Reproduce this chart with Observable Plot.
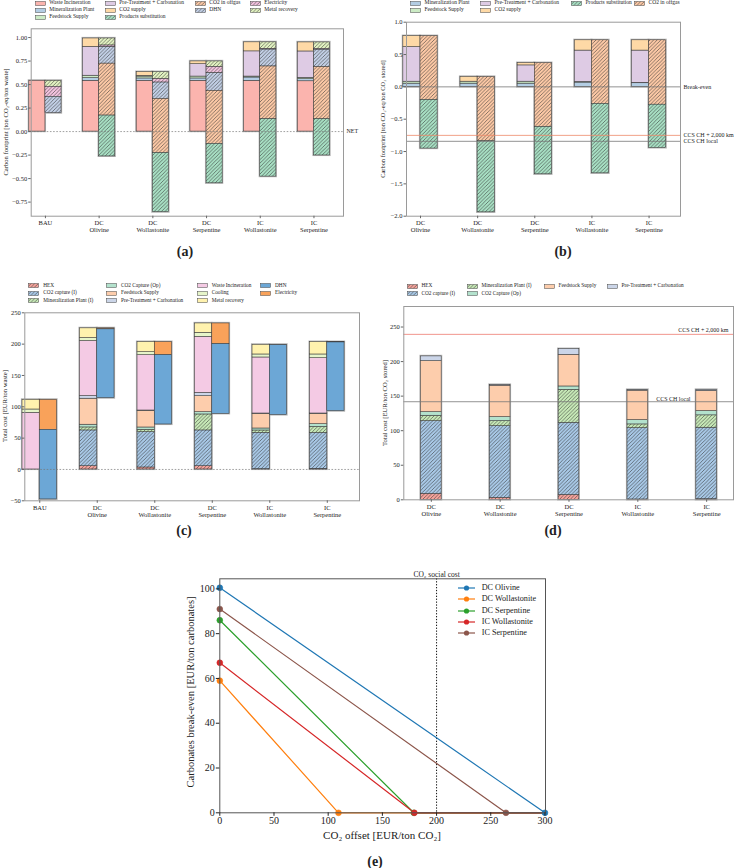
<!DOCTYPE html>
<html><head><meta charset="utf-8">
<script src="https://cdn.jsdelivr.net/npm/d3@7"></script>
<script src="https://cdn.jsdelivr.net/npm/@observablehq/plot@0.6"></script>
<style>
body{margin:0;background:#fff;}
#root{position:relative;width:737px;height:868px;font-family:"Liberation Serif",serif;overflow:hidden;color:#222;}
.sw{position:absolute;}
.lt{position:absolute;white-space:nowrap;line-height:1;transform:translateY(-50%);}
.cap{position:absolute;font-weight:bold;font-size:14px;transform:translate(-50%,-50%);line-height:1;}
.yl{position:absolute;white-space:nowrap;line-height:1;transform:translate(-50%,-50%) rotate(-90deg);}
.xl{position:absolute;white-space:nowrap;line-height:1;transform:translate(-50%,-50%);}
</style></head><body><div id="root"></div>
<script>
// ---------------- DATA ----------------
// Panel (a): carbon footprint per ton of waste
const groupsA = ["BAU","DC\nOlivine","DC\nWollastonite","DC\nSerpentine","IC\nWollastonite","IC\nSerpentine"];
const wasteIncA   = [0.54, 0.54, 0.54, 0.54, 0.54, 0.535];
const mineralA    = [0, 0.029, 0.025, 0.025, 0.035, 0.022];
const feedstockA  = [0, 0.025, 0.02, 0.02, 0.01, 0.015];
const pretreatA   = [0, 0.307, 0.007, 0.132, 0.268, 0.28];
const co2SupplyA  = [0, 0.089, 0.04, 0.029, 0.096, 0.096];
const metalA      = [0.065, 0.075, 0.075, 0.061, 0.071, 0.071];
const electricA   = [0.107, 0.018, 0.036, 0.064, 0.007, 0.007];
const dhnA        = [0.172, 0.175, 0.175, 0.189, 0.179, 0.185];
const offgasA     = [0, 0.552, 0.575, 0.564, 0.56, 0.553];
const substA      = [0, 0.434, 0.628, 0.418, 0.611, 0.386];
const yTicksA = [-0.75,-0.5,-0.25,0,0.25,0.5,0.75,1.0];

// Panel (b): carbon footprint per ton of CO2 stored
const groupsB = ["DC\nOlivine","DC\nWollastonite","DC\nSerpentine","IC\nWollastonite","IC\nSerpentine"];
const mineralB   = [0.05, 0.05, 0.05, 0.066, 0.056];
const feedstockB = [0.03, 0.03, 0.03, 0.01, 0.005];
const pretreatB  = [0.536, 0, 0.252, 0.485, 0.5];
const co2SupplyB = [0.168, 0.073, 0.035, 0.159, 0.159];
const offgasB    = [0.988, 0.995, 0.989, 0.985, 0.996];
const substB     = [0.75, 1.098, 0.73, 1.072, 0.668];
const breakEvenB = 0, ccsFarB = -0.75, ccsLocalB = -0.842;
const yTicksB = [-2,-1.5,-1,-0.5,0,0.5,1];

// Panel (c): total cost per ton of waste
const groupsC = groupsA;
const hexC       = [0, 5.3, 3.2, 5.3, 0.5, 1];
const co2CapIC   = [0, 57, 56.4, 57, 58, 57.4];
const mineralIC  = [0, 4.8, 3.7, 25.5, 3.7, 9.6];
const co2CapOpC  = [0, 4.3, 3.7, 3.7, 3.2, 4.3];
const feedstockC = [0, 41.5, 26.6, 25.5, 23.4, 16.5];
const pretreatC  = [0, 4.3, 0.5, 5.3, 0.5, 0.5];
const wasteIncC  = [90.4, 87.8, 88.3, 89.4, 89.4, 88.3];
const coolingC   = [5.3, 4.8, 4.8, 6.4, 4.8, 5.9];
const metalC     = [15.4, 15.4, 16, 14.9, 15.4, 19.7];
const electricC  = [47.9, 1.6, 20.8, 33, 0.5, 0.5];
const dhnC       = [111, 109.8, 110.6, 111.2, 111.4, 109.6];
const yTicksC = [-50,0,50,100,150,200,250];

// Panel (d): total cost per ton of CO2 stored
const groupsD = groupsB;
const hexD       = [8.7, 2.9, 7.2, 0.5, 1];
const co2CapID   = [105.2, 103.8, 104.2, 103.3, 103.3];
const mineralID  = [7.7, 7.2, 47.8, 5.3, 17.9];
const co2CapOpD  = [5.3, 5.8, 4.8, 6.3, 6.3];
const feedstockD = [73.8, 45.4, 45.8, 42.5, 29];
const pretreatD  = [6.8, 1, 8.2, 1, 1.5];
const ccsFarD = 239.4, ccsLocalD = 141.9;
const yTicksD = [0,50,100,150,200,250];

// Panel (e): carbonates break-even vs CO2 offset
const seriesE   = ["DC Olivine","DC Wollastonite","DC Serpentine","IC Wollastonite","IC Serpentine"];
const breakEvenAtZero = [100.5, 59, 86, 67, 91];
const offsetAtZeroCost = [300, 109.5, 179, 179.5, 264];
const offsetMax = 300;
const socialCost = 200;
const xTicksE = [0,50,100,150,200,250,300];
const yTicksE = [0,20,40,60,80,100];

// ---------------- STYLES ----------------
const root = d3.select("#root");
const defs = root.append("svg").attr("width",0).attr("height",0)
  .style("position","absolute").append("defs");
function hatch(id, color){
  const s = 3.6;
  const p = defs.append("pattern").attr("id",id).attr("patternUnits","userSpaceOnUse")
    .attr("width",s).attr("height",s);
  p.append("rect").attr("width",s).attr("height",s).attr("fill",color);
  p.append("path").attr("d",`M${-s/4},${s/4} L${s/4},${-s/4} M0,${s} L${s},0 M${s*3/4},${s*5/4} L${s*5/4},${s*3/4}`)
    .attr("stroke","#2b2b2b").attr("stroke-width",0.55);
  return `url(#${id})`;
}
const styleAB = {
  "Waste Incineration": "#fbb4ae",
  "Mineralization Plant": "#b3cde3",
  "Feedstock Supply": "#ccebc5",
  "Pre-Treatment + Carbonation": "#decbe4",
  "CO2 supply": "#fed9a6",
  "Products substitution": hatch("hPS","#a8e0c4"),
  "CO2 in offgas": hatch("hOG","#fdc9a6"),
  "DHN": hatch("hDHN","#c3d0e6"),
  "Electricity": hatch("hEL","#f4c4e0"),
  "Metal recovery": hatch("hMR","#e4f4c3")
};
const styleCD = {
  "HEX": hatch("hHEX","#f6a49c"),
  "CO2 capture (I)": hatch("hCC","#a9c9e7"),
  "Mineralization Plant (I)": hatch("hMPI","#c8eab8"),
  "CO2 Capture (Op)": "#b3e2cd",
  "Feedstock Supply": "#fdcdac",
  "Pre-Treatment + Carbonation": "#cbd5e8",
  "Waste Incineration": "#f4cae4",
  "Cooling": "#e6f5c9",
  "Metal recovery": "#fff2ae",
  "DHN": "#6ca7d6",
  "Electricity": "#f9a25a"
};
const colorsE = ["#1f77b4","#ff7f0e","#2ca02c","#d62728","#8c564b"];
const FONT = "Liberation Serif";

// ---------------- HELPERS ----------------
const BW = 0.3;
function stackRows(n, left, right){
  const rows=[], totals=[];
  const single = !right;
  for(let i=0;i<n;i++){
    let y=0; const sL = single?0:-1;
    for(const [k,vals] of left){const v=vals[i]; if(v>0) rows.push({i,side:sL,k,y1:y,y2:y+v}); y+=v;}
    const top=y; totals.push({i,side:sL,y1:0,y2:top});
    if(right){
      for(const [k,vals] of right){const v=vals[i]; if(v>0) rows.push({i,side:1,k,y1:y,y2:y-v}); y-=v;}
      totals.push({i,side:1,y1:top,y2:y});
    }
  }
  return {rows,totals};
}
const X1 = d => d.side<0 ? d.i-BW : d.side>0 ? d.i : d.i-BW/2;
const X2 = d => d.side<0 ? d.i : d.side>0 ? d.i+BW : d.i+BW/2;
const R = document.getElementById("root");

function place(svg, left, top){
  svg.style.position="absolute"; svg.style.left=left+"px"; svg.style.top=top+"px";
  svg.style.overflow="visible";
  R.appendChild(svg);
}
function htmlText(cls, txt, x, y, fs){
  const d=document.createElement("div"); d.className=cls; d.textContent=txt;
  d.style.left=x+"px"; d.style.top=y+"px"; d.style.fontSize=fs+"px"; R.appendChild(d);
}

function barPlot({groups, stack, styles, xDomain, yDomain, yTicks, yFmt,
                  width, height, mL, mT, mR, mB, extra=[], fs=6.5}){
  return Plot.plot({
    width, height, marginLeft:mL, marginTop:mT, marginRight:mR, marginBottom:mB,
    style:{fontFamily:FONT, fontSize:fs+"px", background:"transparent", overflow:"visible"},
    x:{domain:xDomain}, y:{domain:yDomain}, color:{type:"identity"},
    marks:[
      Plot.rect(stack.totals,{x1:X1,x2:X2,y1:"y1",y2:"y2",fill:"none",stroke:"#b5b5b5",strokeWidth:2.2}),
      Plot.rect(stack.rows,{x1:X1,x2:X2,y1:"y1",y2:"y2",fill:d=>styles[d.k],stroke:"#3a3a3a",strokeWidth:0.55}),
      ...extra,
      Plot.frame({stroke:"#9a9a9a",strokeWidth:1}),
      Plot.axisY({ticks:yTicks, tickFormat:yFmt, tickSize:2.5, tickPadding:1.5, stroke:"#666", label:null}),
      Plot.axisX({ticks:d3.range(groups.length), tickFormat:i=>groups[i], tickSize:2.5, tickPadding:1.2,
                  lineHeight:1.12, stroke:"#666", label:null})
    ]
  });
}

function legend(items, styles, fs, tOff){
  for(const [name,x,y] of items){
    const s = d3.create("svg").attr("class","sw").attr("width",11).attr("height",5)
      .style("left",x+"px").style("top",(y-2.5)+"px");
    s.append("rect").attr("x",0.5).attr("y",0.5).attr("width",10).attr("height",4)
      .attr("fill",styles[name]).attr("stroke","#444").attr("stroke-width",0.5);
    R.appendChild(s.node());
    htmlText("lt", name, x+tOff, y, fs);
  }
}

// ---------------- PANEL (a) ----------------
const stA = stackRows(groupsA.length,
  [["Waste Incineration",wasteIncA],["Mineralization Plant",mineralA],["Feedstock Supply",feedstockA],
   ["Pre-Treatment + Carbonation",pretreatA],["CO2 supply",co2SupplyA]],
  [["Metal recovery",metalA],["Electricity",electricA],["DHN",dhnA],["CO2 in offgas",offgasA],["Products substitution",substA]]);
place(barPlot({groups:groupsA, stack:stA, styles:styleAB, xDomain:[-0.265,5.55], yDomain:[-0.9,1.093],
  yTicks:yTicksA, yFmt:d3.format(".2f"),
  width:370, height:220, mL:30.7, mT:8.3, mR:27, mB:24.3,
  extra:[
    Plot.ruleY([0],{stroke:"#777",strokeDasharray:"1.6,1.6",strokeWidth:0.7}),
    Plot.text([{v:0,t:"NET"}],{y:"v",text:"t",frameAnchor:"right",textAnchor:"start",dx:3,fontSize:6})
  ]}), 0, 20);
htmlText("yl","Carbon footprint [ton CO₂-eq/ton waste]",6,122,6.6);
legend([["Waste Incineration",35,3],["Mineralization Plant",35,10],["Feedstock Supply",35,17],
  ["Pre-Treatment + Carbonation",105,3],["CO2 supply",105,10],["Products substitution",105,17],
  ["CO2 in offgas",195,3],["DHN",195,10],["Electricity",250,3],["Metal recovery",250,10]], styleAB, 5.5, 14.3);
htmlText("cap","(a)",185,252,14);

// ---------------- PANEL (b) ----------------
const stB = stackRows(groupsB.length,
  [["Mineralization Plant",mineralB],["Feedstock Supply",feedstockB],["Pre-Treatment + Carbonation",pretreatB],["CO2 supply",co2SupplyB]],
  [["CO2 in offgas",offgasB],["Products substitution",substB]]);
const refB = [
  {v:breakEvenB,t:"Break-even",c:"#777",dash:"1.6,1.6"},
  {v:ccsFarB,t:"CCS CH + 2,000 km",c:"#ee8a6a",dash:"1,1.3"},
  {v:ccsLocalB,t:"CCS CH local",c:"#777",dash:"2.5,1.5"}
];
place(barPlot({groups:groupsB, stack:stB, styles:styleAB, xDomain:[-0.245,4.55], yDomain:[-2,1],
  yTicks:yTicksB, yFmt:d3.format(".1f"),
  width:367, height:226, mL:36, mT:7.7, mR:57, mB:24.3,
  extra:[
    Plot.ruleY(refB,{y:"v",stroke:"c",strokeDasharray:d=>d.dash,strokeWidth:0.8}),
    Plot.text(refB,{y:"v",text:"t",frameAnchor:"right",textAnchor:"start",dx:3,fontSize:6})
  ]}), 370, 14);
htmlText("yl","Carbon footprint [ton CO₂-eq/ton CO₂ stored]",383,119,6.4);
legend([["Mineralization Plant",410,3],["Feedstock Supply",410,10],["Pre-Treatment + Carbonation",480,3],
  ["CO2 supply",480,10],["Products substitution",571,3],["CO2 in offgas",634,3]], styleAB, 5.5, 14.5);
htmlText("cap","(b)",563,252,14);

// ---------------- PANEL (c) ----------------
const stC = stackRows(groupsC.length,
  [["HEX",hexC],["CO2 capture (I)",co2CapIC],["Mineralization Plant (I)",mineralIC],["CO2 Capture (Op)",co2CapOpC],
   ["Feedstock Supply",feedstockC],["Pre-Treatment + Carbonation",pretreatC],["Waste Incineration",wasteIncC],
   ["Cooling",coolingC],["Metal recovery",metalC]],
  [["Electricity",electricC],["DHN",dhnC]]);
place(barPlot({groups:groupsC, stack:stC, styles:styleCD, xDomain:[-0.26,5.56], yDomain:[-50,250],
  yTicks:yTicksC, yFmt:d3.format("d"),
  width:370, height:230, mL:24.3, mT:7.3, mR:11, mB:34.7,
  extra:[Plot.ruleY([0],{stroke:"#777",strokeDasharray:"1.6,1.6",strokeWidth:0.7})]}), 0, 305);
htmlText("yl","Total cost [EUR/ton waste]",5,406,6.6);
legend([["HEX",28.3,285.7],["CO2 capture (I)",28.3,293],["Mineralization Plant (I)",28.3,300.7],
  ["CO2 Capture (Op)",106,285.7],["Feedstock Supply",106,293],["Pre-Treatment + Carbonation",106,300.7],
  ["Waste Incineration",196.7,285.7],["Cooling",196.7,293],["Metal recovery",196.7,300.7],
  ["DHN",260,285.7],["Electricity",260,293]], styleCD, 5.3, 15);
htmlText("cap","(c)",184,531,14);

// ---------------- PANEL (d) ----------------
const stD = stackRows(groupsD.length,
  [["HEX",hexD],["CO2 capture (I)",co2CapID],["Mineralization Plant (I)",mineralID],["CO2 Capture (Op)",co2CapOpD],
   ["Feedstock Supply",feedstockD],["Pre-Treatment + Carbonation",pretreatD]], null);
const refD = [
  {v:ccsFarD,t:"CCS CH + 2,000 km",c:"#ee7a70",dash:"1,1.3"},
  {v:ccsLocalD,t:"CCS CH local",c:"#777",dash:"2.5,1.5"}
];
place(barPlot({groups:groupsD, stack:stD, styles:styleCD, xDomain:[-0.4,4.39], yDomain:[0,279.7],
  yTicks:yTicksD, yFmt:d3.format("d"),
  width:367, height:235, mL:33.3, mT:6, mR:4, mB:35.7,
  extra:[
    Plot.ruleY(refD,{y:"v",stroke:"c",strokeDasharray:d=>d.dash,strokeWidth:0.8}),
    Plot.text(refD.slice(0,1),{y:"v",text:"t",frameAnchor:"right",textAnchor:"end",dx:-5,dy:-4,fontSize:6}),
    Plot.text(refD.slice(1),{y:"v",text:"t",frameAnchor:"right",textAnchor:"end",dx:-43,dy:-3,fontSize:6})
  ]}), 370, 300);
htmlText("yl","Total cost [EUR/ton CO₂ stored]",385,403,6.6);
legend([["HEX",407,286],["CO2 capture (I)",407,293.5],["Mineralization Plant (I)",467,286],
  ["CO2 Capture (Op)",467,293.5],["Feedstock Supply",544,286],["Pre-Treatment + Carbonation",607,286]], styleCD, 5.3, 14.5);
htmlText("cap","(d)",553,531,14);

// ---------------- PANEL (e) ----------------
const linesE = [], dotsE = [];
seriesE.forEach((s,k)=>{
  linesE.push({s,k,x:0,y:breakEvenAtZero[k]},{s,k,x:offsetAtZeroCost[k],y:0},{s,k,x:offsetMax,y:0});
  dotsE.push({s,k,x:0,y:breakEvenAtZero[k]},{s,k,x:offsetAtZeroCost[k],y:0});
});
place(Plot.plot({
  width:400, height:290, marginLeft:49.3, marginTop:18.3, marginRight:25, marginBottom:37.7,
  style:{fontFamily:FONT, fontSize:"10px", background:"transparent", overflow:"visible"},
  x:{domain:[0,300.5]}, y:{domain:[0,104.5]}, color:{type:"identity"},
  marks:[
    Plot.ruleX([socialCost],{stroke:"#111",strokeDasharray:"1.3,1.6",strokeWidth:1}),
    Plot.line(linesE,{x:"x",y:"y",z:"s",stroke:d=>colorsE[d.k],strokeWidth:1.2}),
    Plot.dot(dotsE,{x:"x",y:"y",r:2.9,fill:d=>colorsE[d.k],stroke:d=>colorsE[d.k],strokeWidth:0.6}),
    Plot.frame({stroke:"#555",strokeWidth:1}),
    Plot.axisY({ticks:yTicksE, tickFormat:d3.format("d"), tickSize:3.5, tickPadding:1.5, label:null}),
    Plot.axisX({ticks:xTicksE, tickFormat:d3.format("d"), tickSize:3.5, tickPadding:0.5, label:null}),
    Plot.text([{x:socialCost,t:"CO₂ social cost"}],{x:"x",text:"t",frameAnchor:"top",dy:-7.6,fontSize:7.5})
  ]
}), 170, 560);
htmlText("yl","Carbonates break-even [EUR/ton carbonates]",190.7,692,10.5);
htmlText("xl","CO₂ offset [EUR/ton CO₂]",382,834.5,11);
// legend (e)
(function(){
  const ys = [588.3,599.3,610.7,622,632.5];
  seriesE.forEach((s,k)=>{
    const sv = d3.create("svg").attr("class","sw").attr("width",18).attr("height",8)
      .style("left","458px").style("top",(ys[k]-4)+"px");
    sv.append("line").attr("x1",0).attr("x2",17).attr("y1",4).attr("y2",4).attr("stroke",colorsE[k]).attr("stroke-width",1.2);
    sv.append("circle").attr("cx",8.5).attr("cy",4).attr("r",2.6).attr("fill",colorsE[k]);
    R.appendChild(sv.node());
    htmlText("lt", s, 481.7, ys[k], 8.2);
  });
})();
htmlText("cap","(e)",375,862,14);
</script></body></html>
